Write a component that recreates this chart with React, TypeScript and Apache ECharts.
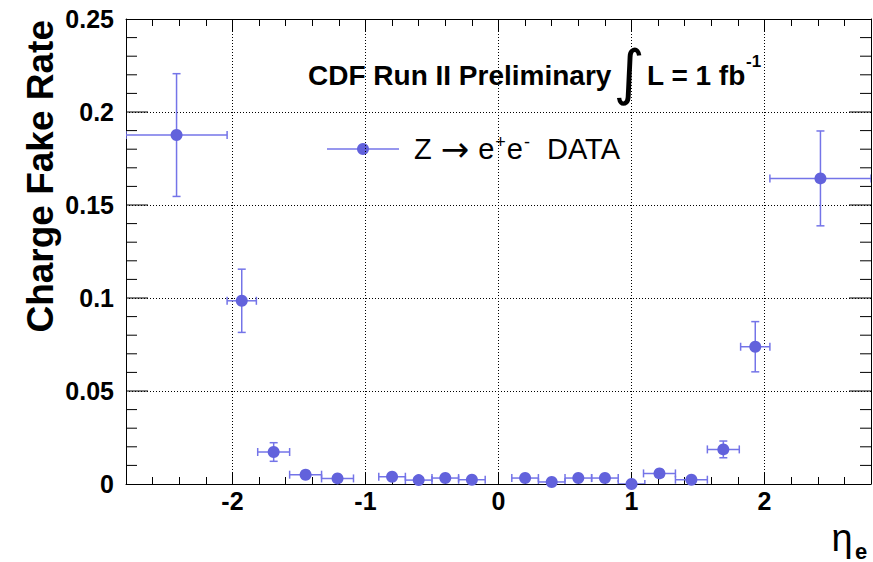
import React, { useEffect, useRef } from "react";
import * as echarts from "echarts";

// |eta| bin centres, half widths, charge fake rates and their uncertainties
const etaCenters = [-2.42, -1.93, -1.69, -1.45, -1.21, -0.8, -0.6, -0.4, -0.2, 0.2, 0.4, 0.6, 0.8, 1.0, 1.21, 1.45, 1.69, 1.93, 2.42];
const etaHalfWidths = [0.38, 0.11, 0.12, 0.12, 0.12, 0.1, 0.1, 0.1, 0.1, 0.1, 0.1, 0.1, 0.1, 0.1, 0.12, 0.12, 0.12, 0.11, 0.38];
const fakeRates = [0.1876, 0.0985, 0.0172, 0.005, 0.003, 0.0039, 0.0021, 0.0032, 0.0023, 0.0032, 0.0011, 0.0032, 0.0032, 0.0, 0.0057, 0.0023, 0.0186, 0.0738, 0.1643];
const rateErrors = [0.033, 0.017, 0.005, 0.002, 0.0015, 0.0015, 0.0012, 0.0015, 0.0012, 0.0015, 0.001, 0.0015, 0.0015, 0.0005, 0.002, 0.0012, 0.0045, 0.0135, 0.0255];

const xMajorTicks = [-2, -1, 0, 1, 2];
const xMinorTicks = [-2.6, -2.4, -2.2, -1.8, -1.6, -1.4, -1.2, -0.8, -0.6, -0.4, -0.2, 0.2, 0.4, 0.6, 0.8, 1.2, 1.4, 1.6, 1.8, 2.2, 2.4, 2.6];
const yMajorTicks = [0.05, 0.1, 0.15, 0.2];
const yMinorTicks = [0.01, 0.02, 0.03, 0.04, 0.06, 0.07, 0.08, 0.09, 0.11, 0.12, 0.13, 0.14, 0.16, 0.17, 0.18, 0.19, 0.21, 0.22, 0.23, 0.24];
const yTickLabels = [0, 0.05, 0.1, 0.15, 0.2, 0.25];
const xRange = [-2.8, 2.8];

const FONT = "Liberation Sans, Arial, Helvetica, sans-serif";
const MARKER = "#6262dc";
const BAR = "#7474e8";

export default function App() {
  const ref = useRef<HTMLDivElement>(null);
  useEffect(() => {
    const chart = echarts.init(ref.current!, null, { renderer: "svg" });
    const errData = etaCenters.map((x, i) => [
      x,
      fakeRates[i],
      x - etaHalfWidths[i],
      x + etaHalfWidths[i],
      fakeRates[i] - rateErrors[i],
      fakeRates[i] + rateErrors[i],
    ]);
    const ptData = etaCenters.map((x, i) => [x, fakeRates[i]]);
    const yTickData = [
      ...yMajorTicks.map((v) => [xRange[0], v, xRange[1], 22]),
      ...yMinorTicks.map((v) => [xRange[0], v, xRange[1], 11]),
    ];

    const tickStyle = { color: "#000", width: 1 };
    const lineOn = { show: true, onZero: false, lineStyle: tickStyle };
    const lineOff = { show: false, onZero: false, lineStyle: tickStyle };
    const xBase = {
      type: "value",
      min: xRange[0],
      max: xRange[1],
      gridIndex: 0,
      splitLine: { show: false },
      axisLabel: { show: false },
    };

    const option: any = {
      animation: false,
      backgroundColor: "#fff",
      grid: { left: 126, right: 2, top: 19, bottom: 78, containLabel: false, outerBoundsMode: "none" },
      xAxis: [
        {
          ...xBase,
          position: "bottom",
          axisLine: lineOn,
          axisTick: { show: true, inside: true, length: 12, customValues: xMajorTicks, lineStyle: tickStyle },
          axisLabel: {
            show: true,
            customValues: xMajorTicks,
            color: "#000",
            fontFamily: FONT,
            fontWeight: "bold",
            fontSize: 25,
            margin: 4,
          },
          splitLine: { show: true, lineStyle: { color: "#000", width: 1, type: [1, 2] } },
        },
        {
          ...xBase,
          position: "bottom",
          axisLine: lineOff,
          axisTick: { show: true, inside: true, length: 7, customValues: xMinorTicks, lineStyle: tickStyle },
        },
        {
          ...xBase,
          position: "top",
          axisLine: lineOn,
          axisTick: { show: true, inside: true, length: 12, customValues: xMajorTicks, lineStyle: tickStyle },
        },
        {
          ...xBase,
          position: "top",
          axisLine: lineOff,
          axisTick: { show: true, inside: true, length: 7, customValues: xMinorTicks, lineStyle: tickStyle },
        },
      ],
      yAxis: [
        {
          type: "value",
          min: 0,
          max: 0.25,
          interval: 0.05,
          position: "left",
          axisLine: lineOn,
          axisTick: { show: false },
          minorTick: { show: false },
          axisLabel: {
            show: true,
            customValues: yTickLabels,
            color: "#000",
            fontFamily: FONT,
            fontWeight: "bold",
            fontSize: 25,
            margin: 12,
          },
          splitLine: { show: true, lineStyle: { color: "#000", width: 1, type: [1, 2] } },
        },
        {
          type: "value",
          min: 0,
          max: 0.25,
          interval: 0.05,
          position: "right",
          axisLine: lineOn,
          axisTick: { show: false },
          minorTick: { show: false },
          axisLabel: { show: false },
          splitLine: { show: false },
        },
      ],
      series: [
        {
          type: "custom",
          name: "yTicks",
          xAxisIndex: 0,
          yAxisIndex: 0,
          clip: false,
          silent: true,
          data: yTickData,
          encode: { x: [0, 2], y: 1 },
          z: 2,
          renderItem: (params: any, api: any) => {
            const v = api.value(1);
            const len = api.value(3);
            const l = api.coord([api.value(0), v]);
            const r = api.coord([api.value(2), v]);
            const st = { stroke: "#000", lineWidth: 1 };
            return {
              type: "group",
              children: [
                { type: "line", shape: { x1: l[0], y1: l[1], x2: l[0] + len, y2: l[1] }, style: st },
                { type: "line", shape: { x1: r[0], y1: r[1], x2: r[0] - len, y2: r[1] }, style: st },
              ],
            };
          },
        },
        {
          type: "custom",
          xAxisIndex: 0,
          yAxisIndex: 0,
          clip: true,
          data: errData,
          encode: { x: [0, 2, 3], y: [1, 4, 5] },
          z: 3,
          renderItem: (params: any, api: any) => {
            const y = api.value(1);
            const x = api.value(0);
            const l = api.coord([api.value(2), y]);
            const r = api.coord([api.value(3), y]);
            const b = api.coord([x, api.value(4)]);
            const t = api.coord([x, api.value(5)]);
            const st = { stroke: BAR, lineWidth: 1.5 };
            const cw = 4;
            const mk = (x1: number, y1: number, x2: number, y2: number) => ({
              type: "line",
              shape: { x1, y1, x2, y2 },
              style: st,
            });
            return {
              type: "group",
              children: [
                mk(l[0], l[1], r[0], r[1]),
                mk(b[0], b[1], t[0], t[1]),
                mk(l[0], l[1] - cw, l[0], l[1] + cw),
                mk(r[0], r[1] - cw, r[0], r[1] + cw),
                mk(t[0] - cw, t[1], t[0] + cw, t[1]),
                mk(b[0] - cw, b[1], b[0] + cw, b[1]),
              ],
            };
          },
        },
        {
          type: "scatter",
          xAxisIndex: 0,
          yAxisIndex: 0,
          data: ptData,
          symbol: "circle",
          symbolSize: 12,
          itemStyle: { color: MARKER, opacity: 1 },
          z: 4,
        },
      ],
      graphic: [
        {
          type: "text",
          x: 40,
          y: 20,
          rotation: Math.PI / 2,
          style: {
            text: "Charge Fake Rate",
            fill: "#000",
            font: `bold 37px ${FONT}`,
            align: "right",
            verticalAlign: "middle",
          },
        },
        {
          type: "text",
          x: 308,
          y: 75,
          style: {
            text: "CDF Run II Preliminary",
            fill: "#000",
            font: `bold 28px ${FONT}`,
            align: "left",
            verticalAlign: "middle",
          },
        },
        {
          type: "text",
          x: 629,
          y: 72,
          style: {
            text: "∫",
            fill: "#000",
            font: `normal 60px DejaVu Sans, sans-serif`,
            align: "center",
            verticalAlign: "middle",
          },
        },
        {
          type: "text",
          x: 647,
          y: 75,
          style: {
            text: "L = 1 fb",
            fill: "#000",
            font: `bold 28px ${FONT}`,
            align: "left",
            verticalAlign: "middle",
          },
        },
        {
          type: "text",
          x: 746,
          y: 61,
          style: {
            text: "-1",
            fill: "#000",
            font: `bold 17px ${FONT}`,
            align: "left",
            verticalAlign: "middle",
          },
        },
        {
          type: "line",
          shape: { x1: 327, y1: 149, x2: 399, y2: 149 },
          style: { stroke: BAR, lineWidth: 1.5 },
        },
        {
          type: "circle",
          shape: { cx: 363, cy: 149, r: 6 },
          style: { fill: MARKER },
        },
        {
          type: "text",
          x: 414,
          y: 149,
          style: {
            text: "{m|Z}{a|→}{m|e}{s|+}{m|e}{s|-}{d|DATA}",
            fill: "#000",
            verticalAlign: "middle",
            align: "left",
            rich: {
              m: { fontFamily: FONT, fontSize: 29, lineHeight: 32, fill: "#000" },
              a: { fontFamily: "DejaVu Sans, sans-serif", fontSize: 34, lineHeight: 32, fill: "#000", padding: [0, 9, 0, 9] },
              s: { fontFamily: FONT, fontSize: 18, lineHeight: 32, verticalAlign: "top", fill: "#000", padding: [0, 1, 0, 1] },
              d: { fontFamily: FONT, fontSize: 29, lineHeight: 32, fill: "#000", padding: [0, 0, 0, 16] },
            },
          },
        },
        {
          type: "text",
          x: 842,
          y: 538,
          style: {
            text: "η",
            fill: "#000",
            font: `normal 38px ${FONT}`,
            align: "center",
            verticalAlign: "middle",
          },
        },
        {
          type: "text",
          x: 861,
          y: 551,
          style: {
            text: "e",
            fill: "#000",
            font: `bold 22px ${FONT}`,
            align: "center",
            verticalAlign: "middle",
          },
        },
      ],
    };
    chart.setOption(option);
    return () => chart.dispose();
  }, []);
  return (
    <div
      ref={ref}
      style={{ position: "fixed", left: 0, top: 0, width: 873, height: 562, background: "#fff" }}
    />
  );
}
